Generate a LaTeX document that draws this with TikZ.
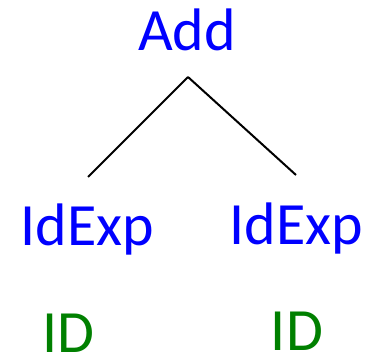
\documentclass[tikz,border=0pt]{standalone}
\usepackage{fontspec}
\setmainfont{Carlito}
\usetikzlibrary{positioning}
\definecolor{termblue}{RGB}{0,0,255}
\definecolor{tokgreen}{RGB}{0,128,0}
\tikzset{
	every node/.style = {font=\fontsize{60}{72}\selectfont, inner sep=0pt, anchor=base},
	nonterm/.style = {text=termblue},
	token/.style = {text=tokgreen}
}

\begin{document}
\begin{tikzpicture}[x=1pt, y=-1pt]
		\useasboundingbox (0,0) rectangle (367,355);
		% root
		\node[nonterm] (add) at (187,51) {Add};
		% children
		\node[nonterm] (idexpL) at (87.5,246) {IdExp};
		\node[nonterm] (idexpR) at (296.5,245) {IdExp};
		% leaves
		\node[token] (idL) at (68.5,352.5) {ID};
		\node[token] (idR) at (297,350.5) {ID};
		
		% edges
		\coordinate (fork) at (188,77);
		\coordinate (endL) at (88,177);
		\coordinate (endR) at (296,175);
		\draw[-, line width=2pt, black] (fork) -- (endL);
		\draw[-, line width=2pt, black] (fork) -- (endR);
	\end{tikzpicture}
\end{document}
